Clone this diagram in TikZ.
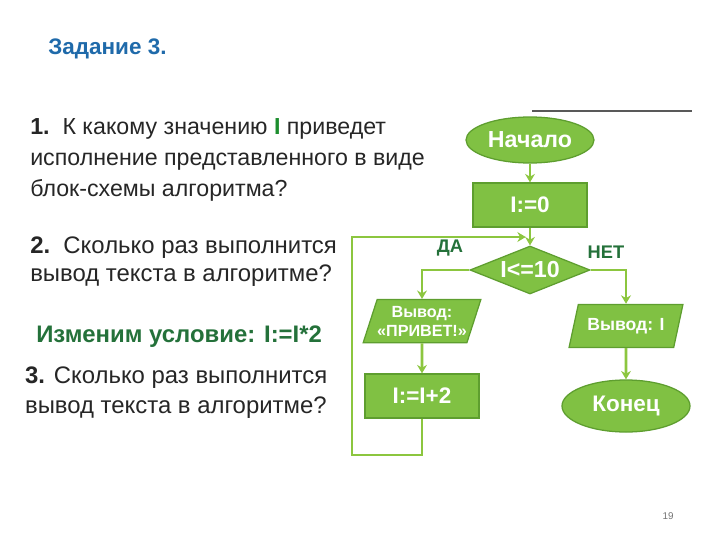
\documentclass[tikz,border=0pt]{standalone}
\usepackage{fontspec}
\setmainfont{Liberation Sans}
\usepackage{xcolor}
\usepackage{tikz}
\usetikzlibrary{arrows.meta,shapes.geometric,positioning}
\definecolor{gfill}{HTML}{80C143}
\definecolor{gline}{HTML}{5E9E2F}
\definecolor{arrc}{HTML}{8CC63F}
\definecolor{titlec}{HTML}{1F6AAA}
\definecolor{darkg}{HTML}{24713A}
\definecolor{txtc}{HTML}{262626}
\tikzset{
  blk/.style={draw=gline, fill=gfill, line width=0.9pt, text=white, font=\bfseries, inner sep=1pt, align=center},
  term/.style={blk, ellipse, minimum width=3.2cm, minimum height=1.15cm},
  proc/.style={blk, rectangle, minimum width=2.85cm, minimum height=1.1cm},
  cond/.style={blk, diamond, aspect=2.5, minimum width=3cm, minimum height=1.2cm},
  io/.style={blk, trapezium, trapezium left angle=67, trapezium right angle=113,
             trapezium stretches=true, minimum width=2.85cm, minimum height=1.08cm},
  link/.style={draw=arrc, line width=2pt, -{Stealth[length=6pt,width=7pt]}},
  qtext/.style={anchor=base west, inner sep=0pt, align=left, text=txtc},
  yesno/.style={font=\bfseries\fontsize{13}{15}\selectfont, text=darkg},
}
\def\xM{13.25}
\def\xL{10.55}
\def\xR{15.65}
\begin{document}
\begin{tikzpicture}
  \useasboundingbox (0,0) rectangle (18,-13.5);
  \node[anchor=base west, inner sep=0pt, text=titlec, font=\bfseries\fontsize{16}{18}\selectfont] (title) at (1.2,-1.35) {Задание 3.};
  \draw[draw=black!65, line width=2pt] (13.3,-2.775) -- (17.3,-2.775);
  % questions (base = last line)
  \node[qtext, font=\fontsize{16.5}{22}\selectfont] (q1) at (0.75,-4.92)
    {\textbf{1.}\ \ К какому значению \textcolor{darkg!80!green}{\textbf{I}} приведет\\исполнение представленного в виде\\блок-схемы алгоритма?};
  \node[qtext, font=\fontsize{17}{20}\selectfont] (q2) at (0.75,-7.03)
    {\textbf{2.}\ \ Сколько раз выполнится\\вывод текста в алгоритме?};
  \node[qtext, text=darkg, font=\bfseries\fontsize{17}{19}\selectfont] (cond2) at (0.9,-8.55)
    {Изменим условие: I:=I*2};
  \node[qtext, font=\fontsize{17}{21.3}\selectfont] (q3) at (0.62,-10.33)
    {\textbf{3.} Сколько раз выполнится\\вывод текста в алгоритме?};
  % flowchart
  \node[term, font=\bfseries\fontsize{16.5}{18}\selectfont] (start) at (\xM,-3.5) {Начало};
  \node[proc, font=\bfseries\fontsize{16}{18}\selectfont] (init) at (\xM,-5.125) {I:=0};
  \node[cond, font=\bfseries\fontsize{16.5}{18}\selectfont] (check) at (\xM,-6.75) {I<=10};
  \node[io, inner xsep=0pt, font=\bfseries\fontsize{11.5}{13.5}\selectfont] (hello) at (\xL,-8.03) {Вывод:\\«ПРИВЕТ!»};
  \node[proc, font=\bfseries\fontsize{16}{18}\selectfont] (incr) at (\xL,-9.9) {I:=I+2};
  \node[io, font=\bfseries\fontsize{12.5}{14}\selectfont] (outI) at (\xR,-8.15) {Вывод: I};
  \node[term, minimum height=1.3cm, font=\bfseries\fontsize{16}{18}\selectfont] (stop) at (\xR,-10.15) {Конец};
  \node[yesno] (yes) at (11.25,-6.2) {ДА};
  \node[yesno] (no) at (15.15,-6.3) {НЕТ};
  \coordinate (join) at (\xM,-5.925);
  \coordinate (loopL) at (8.8,-11.375);
  \draw[link] (start) -- (init);
  \draw[link] (init) -- (check);
  \draw[link] (check.west) -| (hello.north);
  \draw[link] (check.east) -| (outI.north);
  \draw[link] (hello) -- (incr);
  \draw[link] (outI) -- (stop);
  \draw[link] (incr.south) |- (loopL) |- ([xshift=-3pt]join);
  \node[text=black!55, font=\fontsize{7}{8}\selectfont] (page) at (16.7,-12.9) {19};
\end{tikzpicture}
\end{document}
